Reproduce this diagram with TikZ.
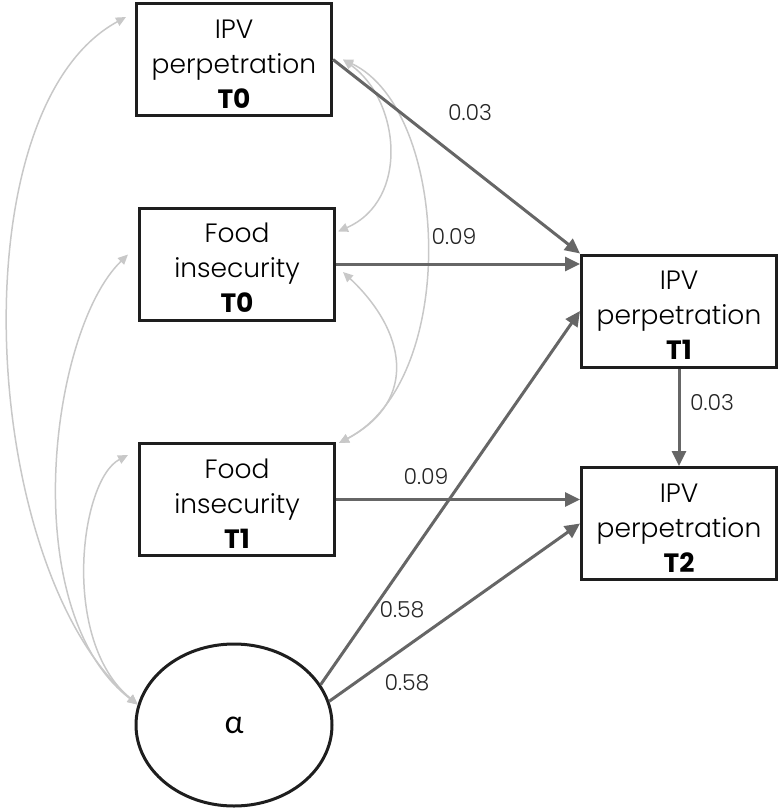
\documentclass[tikz,border=0pt]{standalone}
\usepackage{fontspec}
\setmainfont{Poppins}[UprightFont=* Light, BoldFont=* Bold]
\newfontfamily\greekfont{Lato}
\usetikzlibrary{arrows.meta,shapes.geometric,calc}
\definecolor{pathgray}{HTML}{666666}
\definecolor{covgray}{HTML}{C8C8C8}
\definecolor{boxblack}{HTML}{1E1E1E}
\newcommand{\topstrut}{\rule{0pt}{27pt}}
\begin{document}
\begin{tikzpicture}[x=1pt,y=-1pt,
  varbox/.style={draw=boxblack, line width=3pt, minimum width=195pt, minimum height=112pt,
    align=center, font=\fontsize{26.5}{35}\selectfont, inner sep=0pt},
  latent/.style={ellipse, draw=boxblack, line width=3pt, minimum width=196pt,
    minimum height=162pt, inner sep=0pt},
  regpath/.style={draw=pathgray, line width=3pt, -{Triangle[length=15pt,width=14pt]}},
  cov/.style={draw=covgray, line width=1.5pt,
    {Triangle[length=10pt,width=9pt]}-{Triangle[length=10pt,width=9pt]}},
  lbl/.style={font=\fontsize{22}{26}\selectfont, text=black!85, inner sep=0pt}
]
\useasboundingbox (0,0) rectangle (779,808);

% observed variables
\node[varbox] (ipv0) at (234,59.5) {\topstrut IPV\\perpetration\\\textbf{T0}};
\node[varbox] (fi0) at (237,264) {\topstrut Food\\insecurity\\\textbf{T0}};
\node[varbox] (fi1) at (237,499.5) {\topstrut Food\\insecurity\\\textbf{T1}};
\node[varbox] (ipv1) at (679,311) {\topstrut IPV\\perpetration\\\textbf{T1}};
\node[varbox] (ipv2) at (679,523.5) {\topstrut IPV\\perpetration\\\textbf{T2}};
% latent
\node[latent] (alpha) at (234,725) {\greekfont\fontsize{32}{36}\selectfont α};

% covariances (left)
\draw[cov] ($(ipv0.north west)+(-9,15)$) .. controls (-45,110) and (-20,570) .. (alpha.168);
\draw[cov] ($(fi0.north west)+(-10,48)$) .. controls (50,330) and (15,610) .. (alpha.168);
\draw[cov] ($(fi1.north west)+(-10,13)$) .. controls (80,480) and (60,640) .. (alpha.168);
% covariances (right)
\draw[cov] ($(ipv0.east)+(10,0)$) .. controls (400,100) and (410,200) .. ($(fi0.north east)+(2,25)$);
\draw[cov] ($(ipv0.east)+(10,0)$) .. controls (450,110) and (460,380) .. ($(fi1.north east)+(3,1)$);
\draw[cov] ($(fi0.east)+(7,8)$) .. controls (405,330) and (420,400) .. ($(fi1.north east)+(3,1)$);

% regression paths
\draw[regpath] (ipv0.east) -- (ipv1.north west);
\draw[regpath] (fi0.east) -- (fi0.east -| ipv1.west);
\draw[regpath] (fi1.east) -- (fi1.east -| ipv2.west);
\draw[regpath] (alpha.25) -- (ipv1.west);
\draw[regpath] (alpha.14) -- (ipv2.west);
\draw[regpath] (ipv1.south) -- (ipv2.north);

% labels
\node[lbl] (l1) at (470,113) {0.03};
\node[lbl] (l2) at (454,237) {0.09};
\node[lbl] (l3) at (426,477) {0.09};
\node[lbl] (l4) at (712,403) {0.03};
\node[lbl] (l5) at (402,610) {0.58};
\node[lbl] (l6) at (407,683) {0.58};
\end{tikzpicture}
\end{document}
